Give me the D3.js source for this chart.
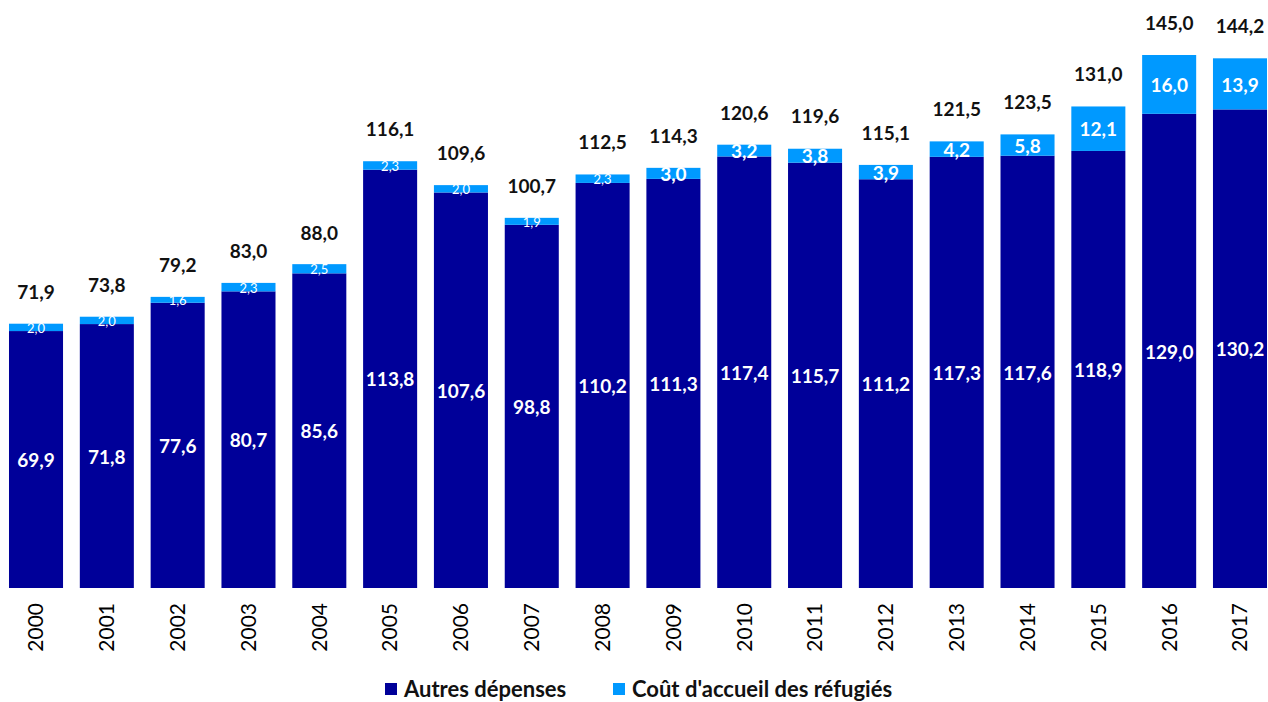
<!DOCTYPE html>
<html>
<head>
<meta charset="utf-8">
<script src="https://cdn.jsdelivr.net/npm/d3@7"></script>
<style>
  body { margin: 0; background: #fff; }
  text { font-family: Lato, "Open Sans", sans-serif; }
</style>
</head>
<body>
<div id="chart"></div>
<script>
var years = ["2000","2001","2002","2003","2004","2005","2006","2007","2008",
             "2009","2010","2011","2012","2013","2014","2015","2016","2017"];
var autres = [69.9, 71.8, 77.6, 80.7, 85.6, 113.8, 107.6, 98.8, 110.2,
              111.3, 117.4, 115.7, 111.2, 117.3, 117.6, 118.9, 129.0, 130.2];
var refugies = [2.0, 2.0, 1.6, 2.3, 2.5, 2.3, 2.0, 1.9, 2.3,
                3.0, 3.2, 3.8, 3.9, 4.2, 5.8, 12.1, 16.0, 13.9];
var totals = [71.9, 73.8, 79.2, 83.0, 88.0, 116.1, 109.6, 100.7, 112.5,
              114.3, 120.6, 119.6, 115.1, 121.5, 123.5, 131.0, 145.0, 144.2];
var seriesNames = ["Autres dépenses", "Coût d'accueil des réfugiés"];

var width = 1268, height = 702;
var colors = ["#000099", "#0099ff"];

var fmt = function(v) { return d3.format(".1f")(v).replace(".", ","); };

var data = years.map(function(y, i) {
  return { year: y, autres: autres[i], refugies: refugies[i], total: totals[i] };
});

var svg = d3.select("#chart").append("svg")
    .attr("width", width)
    .attr("height", height);

// scales
var x = d3.scaleBand()
    .domain(years)
    .range([0.6, 1275.4])
    .paddingInner(0.237)
    .paddingOuter(0.1185);

var y = d3.scaleLinear()
    .domain([0, 145])
    .range([588, 55]);

var stack = d3.stack().keys(["autres", "refugies"]);
var series = stack(data);

var groups = svg.append("g").selectAll("g")
    .data(series)
    .enter().append("g")
    .attr("fill", function(d, i) { return colors[i]; });

groups.selectAll("rect")
    .data(function(d) { return d; })
    .enter().append("rect")
    .attr("x", function(d) { return x(d.data.year); })
    .attr("y", function(d) { return y(d[1]); })
    .attr("width", x.bandwidth())
    .attr("height", function(d) { return y(d[0]) - y(d[1]); });

// labels inside segments
groups.selectAll("text")
    .data(function(d) { return d.map(function(p) { p.key = d.key; return p; }); })
    .enter().append("text")
    .attr("x", function(d) { return x(d.data.year) + x.bandwidth() / 2; })
    .attr("y", function(d) { return (y(d[0]) + y(d[1])) / 2 + 1; })
    .attr("dy", "0.35em")
    .attr("text-anchor", "middle")
    .attr("fill", "#fff")
    .style("font-weight", function(d) { return (d[1] - d[0]) < 2.6 ? "normal" : "bold"; })
    .style("font-size", function(d) { return (d[1] - d[0]) < 2.6 ? "13px" : "19px"; })
    .text(function(d) { return fmt(d.data[d.key]); });

// totals
svg.append("g").selectAll("text")
    .data(data)
    .enter().append("text")
    .attr("x", function(d) { return x(d.year) + x.bandwidth() / 2; })
    .attr("y", function(d) { return y(d.total) - 25; })
    .attr("text-anchor", "middle")
    .attr("fill", "#111")
    .style("font-weight", "bold")
    .style("font-size", "19px")
    .text(function(d) { return fmt(d.total); });

// x axis (rotated year labels)
var xAxis = svg.append("g")
    .attr("transform", "translate(0,588)")
    .call(d3.axisBottom(x).tickSize(0).tickPadding(0));
xAxis.select(".domain").remove();
xAxis.selectAll(".tick text")
    .attr("transform", "rotate(-90)")
    .attr("x", -15)
    .attr("y", 0)
    .attr("dy", "0.35em")
    .attr("text-anchor", "end")
    .attr("fill", "#000")
    .style("font-family", "Lato, sans-serif")
    .style("font-size", "21px");

// legend
var legendX = [385, 613];
var legend = svg.append("g").selectAll("g")
    .data(seriesNames)
    .enter().append("g")
    .attr("transform", function(d, i) { return "translate(" + legendX[i] + ",683)"; });
legend.append("rect")
    .attr("width", 12)
    .attr("height", 12)
    .attr("fill", function(d, i) { return colors[i]; });
legend.append("text")
    .attr("x", 19)
    .attr("y", 6)
    .attr("dy", "0.36em")
    .attr("fill", "#111")
    .style("font-weight", "bold")
    .style("font-size", "22px")
    .text(function(d) { return d; });
</script>
</body>
</html>
